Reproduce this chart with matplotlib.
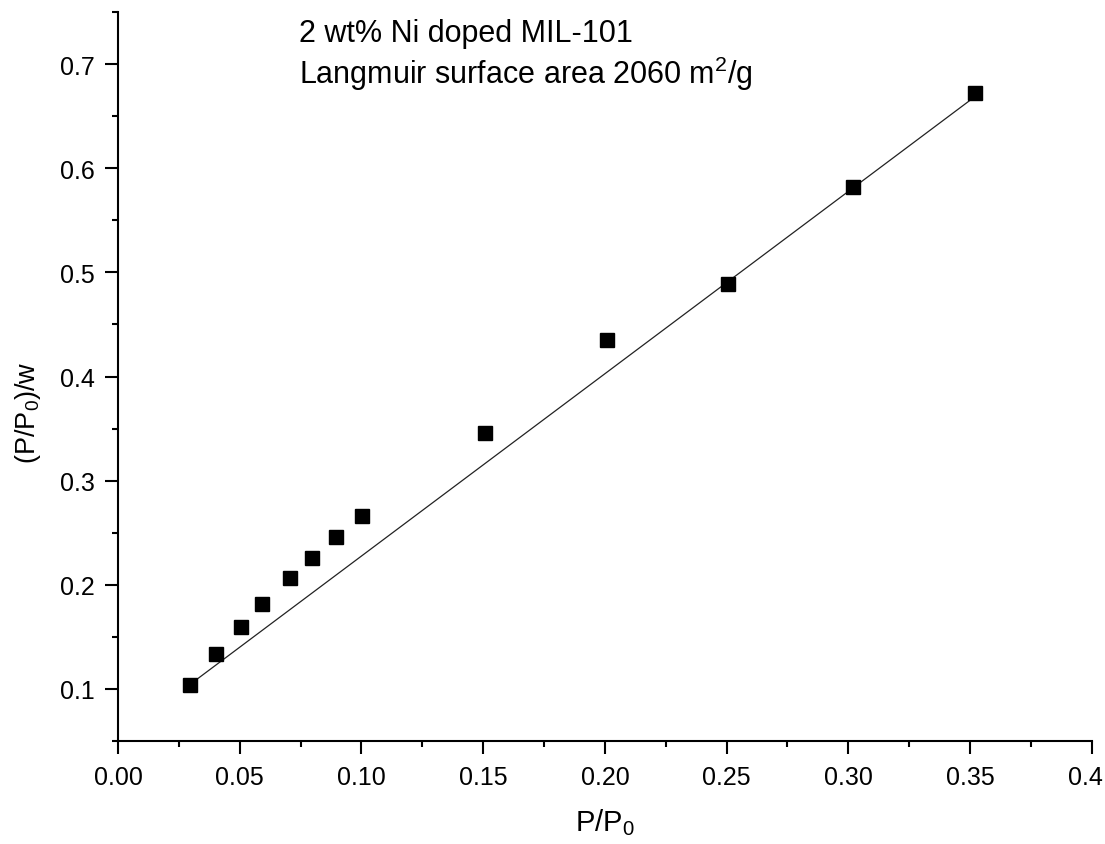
import matplotlib
matplotlib.use("Agg")
import matplotlib.pyplot as plt
import numpy as np
from matplotlib.ticker import MultipleLocator, FixedLocator
from matplotlib.transforms import ScaledTranslation

plt.rcParams['font.family'] = ['Liberation Sans', 'DejaVu Sans']
plt.rcParams['mathtext.fontset'] = 'custom'
plt.rcParams['mathtext.rm'] = 'Liberation Sans'
plt.rcParams['mathtext.it'] = 'Liberation Sans:italic'

# Langmuir plot data
p_rel = [0.0296, 0.0403, 0.0505, 0.0593, 0.0707, 0.0798, 0.0894, 0.1004,
         0.1508, 0.2008, 0.2505, 0.3018, 0.3521]
p_over_w = [0.1035, 0.133, 0.1596, 0.181, 0.2066, 0.2259, 0.2457, 0.2659,
            0.346, 0.435, 0.4886, 0.5825, 0.6728]

# linear fit parameters
fit_slope = 1.7517
fit_intercept = 0.0523

x_ticks = [0.00, 0.05, 0.10, 0.15, 0.20, 0.25, 0.30, 0.35, 0.40]
x_tick_labels = ['0.00', '0.05', '0.10', '0.15', '0.20', '0.25', '0.30', '0.35', '0.4']
y_ticks = [0.1, 0.2, 0.3, 0.4, 0.5, 0.6, 0.7]

fig = plt.figure(figsize=(11.05, 8.45), dpi=100)
ax = fig.add_axes([0.1068, 0.1222, 0.8812, 0.8621])

ax.plot(p_rel, p_over_w, linestyle='none', marker='s', markersize=9.6,
        color='black', zorder=3)
xf = np.array([p_rel[0], p_rel[-1]])
ax.plot(xf, fit_intercept + fit_slope * xf, color='#222222', lw=0.9, zorder=2)

ax.set_xlim(0.0, 0.4)
ax.set_ylim(0.05, 0.75)
ax.xaxis.set_major_locator(FixedLocator(x_ticks))
ax.set_xticklabels(x_tick_labels)
ax.xaxis.set_minor_locator(MultipleLocator(0.025))
ax.yaxis.set_major_locator(FixedLocator(y_ticks))
ax.set_yticklabels([f'{v:.1f}' for v in y_ticks])
ax.yaxis.set_minor_locator(MultipleLocator(0.05))

for s in ['top', 'right']:
    ax.spines[s].set_visible(False)
for s in ['left', 'bottom']:
    ax.spines[s].set_linewidth(1.5)

ax.tick_params(which='major', direction='out', length=9.5, width=1.5,
               labelsize=18)
ax.tick_params(axis='x', which='major', pad=8)
ax.tick_params(axis='y', which='major', pad=7)
ax.tick_params(which='minor', direction='out', length=4.5, width=1.5)

# keep the last x tick label inside the figure edge
last_lbl = ax.get_xticklabels()[-1]
last_lbl.set_transform(last_lbl.get_transform()
                       + ScaledTranslation(-0.06, 0, fig.dpi_scale_trans))

ax.set_xlabel(r'P/P$_\mathregular{0}$', fontsize=21, labelpad=12)
ax.set_ylabel(r'(P/P$_\mathregular{0}$)/w', fontsize=19.5)
ax.yaxis.set_label_coords(-0.077, 0.452)

ax.text(0.0745, 0.7224, '2 wt% Ni doped MIL-101', fontsize=22,
        va='baseline', ha='left')
ax.text(0.0745, 0.6824, r'Langmuir surface area 2060 m$^\mathregular{2}$/g',
        fontsize=22, va='baseline', ha='left')

fig.savefig('out.png', dpi=100, facecolor='white')
